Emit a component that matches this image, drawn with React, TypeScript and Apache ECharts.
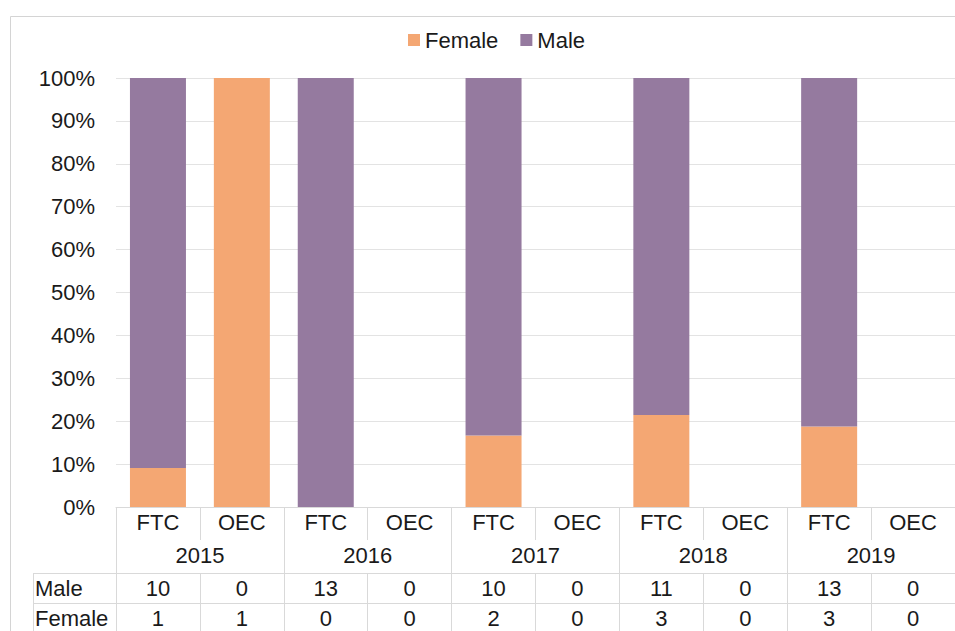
import React, { useEffect, useRef } from "react";
import * as echarts from "echarts";

const years = ["2015", "2016", "2017", "2018", "2019"];
const groups = ["FTC", "OEC"];
const categories = years.flatMap(() => groups);
const maleCounts = [10, 0, 13, 0, 10, 0, 11, 0, 13, 0];
const femaleCounts = [1, 1, 0, 0, 2, 0, 3, 0, 3, 0];
const seriesNames = ["Female", "Male"];

const FONT = "'Liberation Sans', Arial, sans-serif";
const TEXT = "#1a1a1a";
const LINE = "#d9d9d9";
const FS = 22;

const share = (part: number[], other: number[]) =>
  part.map((v, i) => {
    const t = v + other[i];
    return t === 0 ? 0 : (v / t) * 100;
  });

export default function App() {
  const ref = useRef<HTMLDivElement>(null);
  useEffect(() => {
    if (!ref.current) return;
    const chart = echarts.init(ref.current, null, { renderer: "svg" });
    const femalePct = share(femaleCounts, maleCounts);
    const malePct = share(maleCounts, femaleCounts);
    const labelStyle = { fontSize: FS, color: TEXT, fontFamily: FONT, margin: 4 };
    chart.setOption({
      animation: false,
      backgroundColor: "#fff",
      textStyle: { fontFamily: FONT },
      legend: {
        data: seriesNames,
        left: 403,
        top: 24,
        icon: "rect",
        itemWidth: 12,
        itemHeight: 12,
        itemGap: 22,
        textStyle: { fontSize: FS, color: TEXT, fontFamily: FONT },
      },
      grid: { left: 116, right: -1, top: 78, bottom: 124, containLabel: false },
      yAxis: {
        type: "value",
        min: 0,
        max: 100,
        interval: 10,
        axisLine: { show: false },
        axisTick: { show: false },
        axisLabel: { formatter: "{value}%", fontSize: FS, color: TEXT, fontFamily: FONT, margin: 21 },
        splitLine: { lineStyle: { color: "#e3e3e3", width: 1 } },
      },
      xAxis: [
        {
          type: "category",
          data: categories,
          position: "bottom",
          offset: 0,
          axisLine: { show: true, lineStyle: { color: LINE } },
          axisTick: { show: true, interval: 0, length: 33, lineStyle: { color: LINE } },
          axisLabel: { ...labelStyle, interval: 0 },
        },
        {
          type: "category",
          data: years,
          position: "bottom",
          offset: 33,
          axisLine: { show: false },
          axisTick: { show: true, interval: 0, length: 33, lineStyle: { color: LINE } },
          axisLabel: { ...labelStyle, interval: 0 },
        },
        {
          type: "category",
          data: maleCounts.map(String),
          position: "bottom",
          offset: 66,
          axisLine: { show: true, lineStyle: { color: LINE } },
          axisTick: { show: true, interval: 0, length: 30, lineStyle: { color: LINE } },
          axisLabel: { ...labelStyle, interval: 0 },
        },
        {
          type: "category",
          data: femaleCounts.map(String),
          position: "bottom",
          offset: 96,
          axisLine: { show: true, lineStyle: { color: LINE } },
          axisTick: { show: true, interval: 0, length: 30, lineStyle: { color: LINE } },
          axisLabel: { ...labelStyle, interval: 0 },
        },
      ],
      series: [
        {
          name: seriesNames[0],
          type: "bar",
          stack: "total",
          xAxisIndex: 0,
          barWidth: 56,
          itemStyle: { color: "#F4A773" },
          data: femalePct,
        },
        {
          name: seriesNames[1],
          type: "bar",
          stack: "total",
          xAxisIndex: 0,
          barWidth: 56,
          itemStyle: { color: "#957A9F" },
          data: malePct,
        },
      ],
      graphic: [
        {
          type: "rect",
          silent: true,
          shape: { x: 10.5, y: 16.5, width: 980, height: 660 },
          style: { fill: "none", stroke: "#d4d4d4", lineWidth: 1 },
        },
        {
          type: "line",
          silent: true,
          shape: { x1: 33, y1: 573.5, x2: 116, y2: 573.5 },
          style: { stroke: LINE, lineWidth: 1 },
        },
        {
          type: "line",
          silent: true,
          shape: { x1: 33, y1: 603.5, x2: 116, y2: 603.5 },
          style: { stroke: LINE, lineWidth: 1 },
        },
        {
          type: "line",
          silent: true,
          shape: { x1: 33.5, y1: 573, x2: 33.5, y2: 640 },
          style: { stroke: LINE, lineWidth: 1 },
        },
        {
          type: "text",
          silent: true,
          x: 35,
          y: 588,
          style: { text: seriesNames[1], fontSize: FS, fill: TEXT, fontFamily: FONT, verticalAlign: "middle" },
        },
        {
          type: "text",
          silent: true,
          x: 35,
          y: 618,
          style: { text: seriesNames[0], fontSize: FS, fill: TEXT, fontFamily: FONT, verticalAlign: "middle" },
        },
      ],
    });
    return () => chart.dispose();
  }, []);
  return (
    <div
      ref={ref}
      style={{ position: "fixed", left: 0, top: 0, width: 955, height: 631, background: "#fff" }}
    />
  );
}
